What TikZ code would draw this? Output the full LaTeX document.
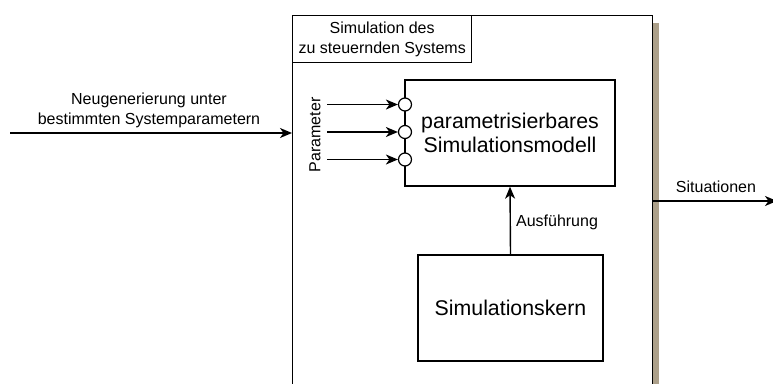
\documentclass[tikz,border=0pt]{standalone}
\usepackage{fontspec}
\setmainfont{Liberation Sans}
\usetikzlibrary{arrows.meta}
\definecolor{shadowtan}{RGB}{172,160,138}
\tikzset{
  box/.style={draw=black, line width=1.4pt, fill=white, inner sep=0pt},
  port/.style={circle, draw=black, line width=1.2pt, fill=white, minimum size=13pt, inner sep=0pt},
  flow/.style={line width=1.4pt, -{Stealth[length=12pt,width=10pt,inset=3.5pt]}},
  smalltext/.style={font=\fontsize{16}{19.5}\selectfont, align=center, inner sep=0pt},
  bigtext/.style={font=\fontsize{21.3}{24.5}\selectfont, align=center},
}
\begin{document}
\begin{tikzpicture}[x=1pt,y=-1pt]
\useasboundingbox (0,0) rectangle (773,383);

% system frame with its shadow
\fill[shadowtan] (652,23) rectangle (659,390);
\node[box, anchor=north west, minimum width=360pt, minimum height=380pt] (sys) at (292,15) {};
\node[box, anchor=north west, minimum width=179pt, minimum height=47pt, smalltext] (title) at (292,15) {Simulation des\\zu steuernden Systems};

% model and kernel
\node[box, bigtext, minimum width=210pt, minimum height=106pt] (model) at (510,133) {parametrisierbares\\Simulationsmodell};
\node[box, bigtext, minimum width=185pt, minimum height=106pt] (kern) at (510.5,308) {Simulationskern};

% parameter ports
\node[port] (p1) at (405,104.5) {};
\node[port] (p2) at (405,132) {};
\node[port] (p3) at (405,159.5) {};
\coordinate (s1) at (327,104.5);
\coordinate (s2) at (327,132);
\coordinate (s3) at (327,159.5);
\draw[flow] (s1) -- (p1.west);
\draw[flow] (s2) -- (p2.west);
\draw[flow] (s3) -- (p3.west);
\node[smalltext, rotate=90] (plabel) at (315,135) {Parameter};

% execution
\draw[flow] (kern.north) -- (model.south);
\node[smalltext] (exec) at (557,222) {Ausführung};

% input and output
\coordinate (in) at (10,133);
\draw[flow] (in) -- (in -| sys.west);
\node[smalltext] (inlabel) at (149,110.5) {Neugenerierung unter\\bestimmten Systemparametern};
\coordinate (out) at (777,201);
\draw[flow] (out -| sys.east) -- (out);
\node[smalltext] (outlabel) at (716,187) {Situationen};
\end{tikzpicture}
\end{document}
